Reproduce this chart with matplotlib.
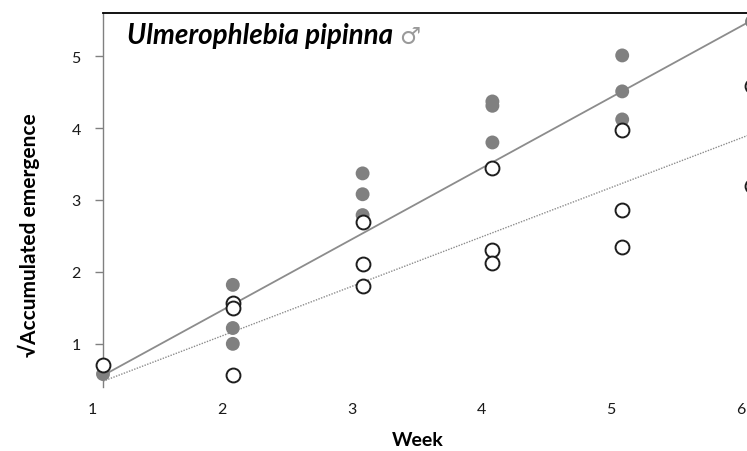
import matplotlib
matplotlib.use("Agg")
import matplotlib.pyplot as plt
import matplotlib.transforms as mtransforms
import numpy as np

# --- data ---
weeks_filled = [1, 2, 2, 2, 3, 3, 3, 4, 4, 4, 5, 5, 5, 6, 6]
vals_filled = [0.58, 1.82, 1.22, 1.00, 3.37, 3.08, 2.79, 4.37, 4.31, 3.80, 5.01, 4.51, 4.12, 5.48, 4.58]

weeks_open = [1, 2, 2, 2, 3, 3, 3, 4, 4, 4, 5, 5, 5, 6, 6]
vals_open = [0.70, 1.57, 1.50, 0.56, 2.69, 2.11, 1.81, 3.44, 2.30, 2.12, 3.97, 2.86, 2.34, 4.58, 3.19]

fit_x = [1, 6]
fit_filled = [0.56, 5.50]   # solid regression line
fit_open = [0.48, 3.92]     # dotted regression line

xtick_vals = [1, 2, 3, 4, 5, 6]
ytick_vals = [1, 2, 3, 4, 5]

title_text = "Ulmerophlebia pipinna"
male_sign = "\u2642"
ylabel_text = "\u221aAccumulated emergence"
xlabel_text = "Week"

# --- figure ---
W, H = 747, 452
fig = plt.figure(figsize=(W / 100, H / 100), dpi=100)
left_px, right_px, top_px, bottom_px = 103, 752, 14, 388
ax = fig.add_axes([left_px / W, 1 - bottom_px / H,
                   (right_px - left_px) / W, (bottom_px - top_px) / H])

font = "Lato"

ax.plot(fit_x, fit_filled, color="#8c8c8c", lw=1.3, zorder=2, clip_on=False)
ax.plot(fit_x, fit_open, color="#8c8c8c", lw=1.0, ls=(0, (1, 1)), zorder=2, clip_on=False)

ax.scatter(weeks_filled, vals_filled, s=100, color="#808080", edgecolors="none",
           zorder=3, clip_on=False)
ax.scatter(weeks_open, vals_open, s=100, facecolors="white", edgecolors="#1e1e1e",
           linewidths=1.4, zorder=4, clip_on=False)

ax.set_xticks(xtick_vals)
ax.set_xticklabels([str(v) for v in xtick_vals])
ax.set_yticks(ytick_vals)
ax.set_yticklabels([str(v) for v in ytick_vals])
ax.set_xlim(1, 6)
ax.set_ylim(0.40, 5.60)

ax.tick_params(axis="x", length=0, pad=11, labelsize=11.5, labelcolor="#1a1a1a")
ax.tick_params(axis="y", direction="out", length=6, width=1.0, color="#808080",
               pad=10, labelsize=11.5, labelcolor="#1a1a1a")
for lab in ax.get_xticklabels() + ax.get_yticklabels():
    lab.set_fontfamily(font)

# category labels sit a little left of the point columns (Excel style)
shift = mtransforms.ScaledTranslation(-11 / 100, 0, fig.dpi_scale_trans)
for tick in ax.xaxis.get_major_ticks():
    tick.label1.set_transform(tick.label1.get_transform() + shift)

ax.spines["bottom"].set_visible(False)
ax.spines["right"].set_visible(False)
ax.spines["left"].set_color("#808080")
ax.spines["left"].set_linewidth(1.0)
ax.spines["top"].set_color("#000000")
ax.spines["top"].set_linewidth(1.3)

ax.set_facecolor("white")
fig.patch.set_facecolor("white")

t = fig.text(127 / W, 1 - 36 / H, title_text, fontsize=20, fontweight="bold",
             fontstyle="italic", family=font, va="center", ha="left", color="#000000")
fig.canvas.draw()
bb = t.get_window_extent()
fig.text((bb.x1 + 6) / W, 1 - 37 / H, male_sign, fontsize=17, family="DejaVu Sans",
         va="center", ha="left", color="#9a9a9a")

fig.text(29 / W, 1 - 235 / H, ylabel_text, rotation=90, fontsize=15, fontweight="bold",
         family=[font, "DejaVu Sans"], va="center", ha="center", color="#000000")
fig.text(418 / W, 1 - 441 / H, xlabel_text, fontsize=14, fontweight="bold",
         family=font, va="center", ha="center", color="#000000")

fig.savefig("out.png", dpi=100, facecolor="white")
